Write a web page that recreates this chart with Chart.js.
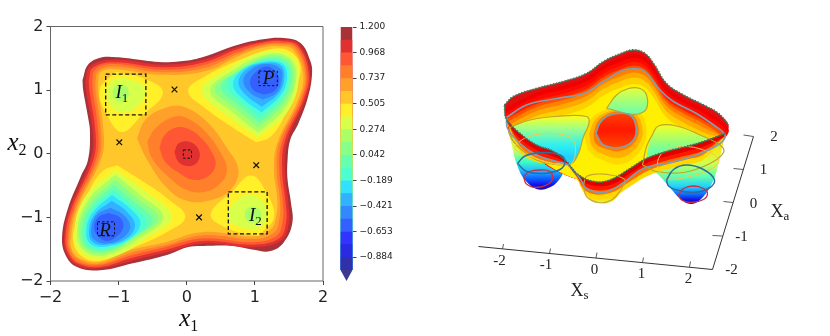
<!DOCTYPE html>
<html>
<head>
<meta charset="utf-8">
<style>
  html, body { margin: 0; padding: 0; background: #fff; }
  canvas { position: absolute; top: 0; }
</style>
<script src="https://cdn.jsdelivr.net/npm/chart.js@4"></script>
</head>
<body>
<canvas id="mapChart" width="335" height="336" style="left:0"></canvas>
<canvas id="barChart" width="110" height="336" style="left:330px"></canvas>
<canvas id="surfChart" width="390" height="336" style="left:440px"></canvas>
<script>
// colour bar
const barLevels = [1.2, 1.084, 0.968, 0.853, 0.737, 0.621, 0.505, 0.39, 0.274, 0.158, 0.042, -0.074, -0.189, -0.305, -0.421, -0.537, -0.653, -0.768, -0.884];
const barColors = ['#a83238', '#e03030', '#ff5733', '#ff7f2a', '#ffa02a', '#ffc72a', '#fff02a', '#d8ff4a', '#aaff66', '#88ff88', '#66ffb0', '#4dffd0', '#33e0ff', '#33b0ff', '#3388ff', '#3360ff', '#3333ff', '#2a2ae0', '#3030a8'];
const barTicks = [1.2, 0.968, 0.737, 0.505, 0.274, 0.042, -0.189, -0.421, -0.653, -0.884];

// contour map: outer rings, from the rim inwards
const rim0 = [[-1.53,1.16],[-1.45,1.40],[-1.27,1.51],[-1.08,1.52],[-.79,1.49],[-.35,1.44],[-.02,1.46],[.24,1.52],[.74,1.71],[1.12,1.80],[1.42,1.82],[1.67,1.74],[1.81,1.47],[1.84,1.27],[1.78,.89],[1.64,.48],[1.52,.22],[1.48,-.10],[1.48,-.41],[1.53,-.77],[1.55,-1.09],[1.42,-1.40],[1.23,-1.53],[.98,-1.51],[.68,-1.45],[.24,-1.45],[.01,-1.47],[-.29,-1.59],[-.79,-1.72],[-1.27,-1.83],[-1.61,-1.78],[-1.78,-1.59],[-1.83,-1.31],[-1.75,-.88],[-1.56,-.37],[-1.45,-.10],[-1.42,.33],[-1.45,.58],[-1.52,1.00],[-1.53,1.16]];
const rim1 = [[-1.49,1.15],[-1.42,1.37],[-1.08,1.48],[-.35,1.40],[.25,1.48],[.75,1.68],[1.12,1.77],[1.41,1.79],[1.65,1.72],[1.81,1.27],[1.75,.88],[1.48,.21],[1.44,-.25],[1.49,-.76],[1.50,-1.08],[1.39,-1.36],[.98,-1.47],[.24,-1.41],[-.30,-1.55],[-.80,-1.68],[-1.27,-1.80],[-1.60,-1.76],[-1.76,-1.58],[-1.80,-1.31],[-1.72,-.87],[-1.41,-.09],[-1.38,.33],[-1.48,1.00],[-1.49,1.15]];
const rim2 = [[-1.44,1.14],[-1.38,1.35],[-1.08,1.44],[-.35,1.36],[.26,1.44],[.76,1.65],[1.12,1.75],[1.40,1.77],[1.63,1.70],[1.79,1.26],[1.72,.87],[1.44,.20],[1.40,-.25],[1.45,-.76],[1.46,-1.07],[1.36,-1.33],[.98,-1.43],[.24,-1.37],[-.31,-1.51],[-.81,-1.64],[-1.27,-1.78],[-1.59,-1.73],[-1.74,-1.56],[-1.78,-1.31],[-1.69,-.86],[-1.37,-.09],[-1.34,.33],[-1.43,1.00],[-1.44,1.14]];
const rim3 = [[-1.39,1.14],[-1.34,1.33],[-1.08,1.41],[-.35,1.32],[.27,1.40],[.77,1.61],[1.12,1.72],[1.39,1.74],[1.61,1.68],[1.76,1.25],[1.69,.86],[1.40,.19],[1.36,-.25],[1.41,-.75],[1.41,-1.05],[1.32,-1.29],[.98,-1.39],[.24,-1.33],[-.32,-1.47],[-.82,-1.60],[-1.27,-1.75],[-1.58,-1.71],[-1.72,-1.55],[-1.75,-1.31],[-1.66,-.86],[-1.33,-.08],[-1.30,.33],[-1.38,1.00],[-1.39,1.14]];
const rim4 = [[-1.34,1.14],[-1.30,1.30],[-1.07,1.37],[-.35,1.28],[.27,1.35],[.78,1.58],[1.12,1.70],[1.38,1.72],[1.59,1.66],[1.74,1.24],[1.66,.85],[1.36,.18],[1.32,-.25],[1.37,-.75],[1.36,-1.03],[1.28,-1.24],[.98,-1.34],[.24,-1.28],[-.33,-1.44],[-.83,-1.56],[-1.27,-1.73],[-1.56,-1.68],[-1.70,-1.53],[-1.73,-1.31],[-1.63,-.85],[-1.29,-.07],[-1.26,.33],[-1.34,1.00],[-1.34,1.14]];
const rim5 = [[-1.30,1.14],[-1.27,1.28],[-1.07,1.33],[-.35,1.24],[.28,1.30],[.79,1.55],[1.12,1.67],[1.37,1.69],[1.56,1.64],[1.71,1.24],[1.63,.84],[1.33,.17],[1.28,-.25],[1.33,-.74],[1.31,-1.00],[1.23,-1.19],[.98,-1.30],[.24,-1.23],[-.34,-1.40],[-.84,-1.52],[-1.27,-1.70],[-1.55,-1.66],[-1.68,-1.52],[-1.70,-1.31],[-1.60,-.84],[-1.25,-.06],[-1.22,.33],[-1.30,1.00],[-1.30,1.14]];

// central hill
const hill0 = [[-.73,.24],[-.61,.53],[-.34,.71],[-.05,.74],[.30,.50],[.59,.09],[.76,-.26],[.64,-.57],[.35,-.73],[0,-.74],[-.29,-.54],[-.58,-.10],[-.73,.24]];
const hill1 = [[-.58,.19],[-.46,.40],[-.19,.58],[0,.56],[.27,.35],[.49,.03],[.59,-.26],[.47,-.49],[.25,-.60],[0,-.57],[-.27,-.36],[-.51,-.07],[-.58,.19]];
const hill2 = [[-.40,.09],[-.34,.27],[-.19,.40],[0,.40],[.22,.24],[.39,-.02],[.42,-.20],[.30,-.36],[.10,-.41],[-.10,-.31],[-.32,-.12],[-.40,.09]];
const hill3 = [[-.18,.03],[-.12,.16],[.03,.19],[.15,.11],[.19,-.05],[.10,-.18],[-.05,-.18],[-.14,-.10],[-.18,.03]];

// intermediate wells
const i1a = [[-1.05,1.29],[-.64,1.19],[-.35,.96],[-.68,.58],[-.95,.34],[-1.17,.61],[-1.28,1.00],[-1.05,1.29]];
const i1b = [[-.90,1.19],[-.65,1.08],[-.61,.92],[-.79,.69],[-1.01,.66],[-1.15,.81],[-1.18,1.00],[-1.08,1.16],[-.90,1.19]];
const i1c = [[-.97,1.09],[-.88,1.05],[-.85,.96],[-.88,.87],[-.97,.83],[-1.06,.87],[-1.09,.96],[-1.06,1.05],[-.97,1.09]];
const i2a = [[1.05,-1.29],[.64,-1.19],[.35,-.96],[.68,-.58],[.95,-.34],[1.17,-.61],[1.28,-1.00],[1.05,-1.29]];
const i2b = [[.90,-1.19],[.65,-1.08],[.61,-.92],[.79,-.69],[1.01,-.66],[1.15,-.81],[1.18,-1.00],[1.08,-1.16],[.90,-1.19]];
const i2c = [[.97,-1.09],[.88,-1.05],[.85,-.96],[.88,-.87],[.97,-.83],[1.06,-.87],[1.09,-.96],[1.06,-1.05],[.97,-1.09]];

// deep well R
const r0 = [[-1.02,-.18],[-.68,-.41],[-.29,-.70],[-.02,-.99],[-.29,-1.23],[-.79,-1.48],[-1.27,-1.68],[-1.53,-1.62],[-1.67,-1.35],[-1.58,-.99],[-1.40,-.52],[-1.22,-.26],[-1.02,-.18]];
const r1 = [[-1.05,-.26],[-.63,-.57],[-.22,-.99],[-.58,-1.32],[-1.12,-1.63],[-1.53,-1.57],[-1.65,-1.25],[-1.49,-.675],[-1.05,-.26]];
const r2 = [[-1.05,-.33],[-.68,-.65],[-.34,-.99],[-.63,-1.28],[-1.17,-1.59],[-1.50,-1.53],[-1.61,-1.225],[-1.45,-.73],[-1.05,-.33]];
const r3 = [[-1.05,-.41],[-.73,-.70],[-.41,-1.015],[-.68,-1.26],[-1.17,-1.55],[-1.48,-1.50],[-1.58,-1.20],[-1.43,-.78],[-1.05,-.41]];
const r4 = [[-1.07,-.49],[-.78,-.75],[-.50,-1.04],[-.73,-1.28],[-1.17,-1.52],[-1.46,-1.47],[-1.54,-1.20],[-1.41,-.83],[-1.07,-.49]];
const r5 = [[-1.07,-.57],[-.81,-.81],[-.59,-1.07],[-.78,-1.30],[-1.17,-1.49],[-1.44,-1.44],[-1.50,-1.20],[-1.39,-.88],[-1.07,-.57]];
const r6 = [[-1.10,-.65],[-.83,-.86],[-.68,-1.09],[-.83,-1.33],[-1.17,-1.46],[-1.42,-1.41],[-1.47,-1.17],[-1.37,-.91],[-1.10,-.65]];
const r7 = [[-1.10,-.74],[-.88,-.91],[-.76,-1.12],[-.88,-1.33],[-1.17,-1.43],[-1.39,-1.38],[-1.43,-1.17],[-1.34,-.94],[-1.10,-.74]];
const r8 = [[-1.12,-.85],[-.93,-.96],[-.83,-1.15],[-.95,-1.33],[-1.17,-1.41],[-1.37,-1.34],[-1.40,-1.17],[-1.32,-.96],[-1.12,-.85]];
const r9 = [[-1.15,-.93],[-.98,-1.0],[-.93,-1.15],[-1.03,-1.30],[-1.17,-1.37],[-1.30,-1.30],[-1.36,-1.15],[-1.29,-.99],[-1.15,-.93]];

// deep well P
const p0 = [[1.02,.18],[.68,.41],[.29,.70],[.02,.99],[.29,1.23],[.79,1.48],[1.27,1.65],[1.53,1.60],[1.67,1.35],[1.58,.99],[1.40,.52],[1.22,.26],[1.02,.18]];
const p1 = [[1.05,.26],[.63,.57],[.22,.99],[.58,1.32],[1.12,1.60],[1.53,1.55],[1.65,1.25],[1.49,.675],[1.05,.26]];
const p2 = [[1.05,.33],[.68,.65],[.34,.99],[.63,1.28],[1.17,1.56],[1.50,1.51],[1.61,1.225],[1.45,.73],[1.05,.33]];
const p3 = [[1.05,.41],[.73,.70],[.41,1.015],[.68,1.26],[1.17,1.53],[1.48,1.48],[1.58,1.20],[1.43,.78],[1.05,.41]];
const p4 = [[1.07,.49],[.78,.75],[.50,1.04],[.73,1.28],[1.17,1.50],[1.46,1.45],[1.54,1.20],[1.41,.83],[1.07,.49]];
const p5 = [[1.07,.57],[.81,.81],[.59,1.07],[.78,1.30],[1.17,1.47],[1.44,1.42],[1.50,1.20],[1.39,.88],[1.07,.57]];
const p6 = [[1.10,.65],[.83,.86],[.68,1.09],[.83,1.33],[1.17,1.45],[1.42,1.40],[1.47,1.17],[1.37,.91],[1.10,.65]];
const p7 = [[1.10,.74],[.88,.91],[.76,1.12],[.88,1.33],[1.17,1.43],[1.39,1.38],[1.43,1.17],[1.34,.94],[1.10,.74]];
const p8 = [[1.12,.85],[.93,.96],[.83,1.15],[.95,1.33],[1.17,1.41],[1.37,1.34],[1.40,1.17],[1.32,.96],[1.12,.85]];
const p9 = [[1.15,.93],[.98,1.0],[.93,1.15],[1.03,1.30],[1.17,1.37],[1.30,1.30],[1.36,1.15],[1.29,.99],[1.15,.93]];

// dashed boxes and saddle points
const boxI1 = [[-1.19,1.25],[-.60,1.25],[-.60,.61],[-1.19,.61],[-1.19,1.25]];
const boxI2 = [[.61,-.60],[1.18,-.60],[1.18,-1.26],[.61,-1.26],[.61,-.60]];
const boxP = [[1.06,1.30],[1.33,1.30],[1.33,1.07],[1.06,1.07],[1.06,1.30]];
const boxR = [[-1.31,-1.07],[-1.06,-1.07],[-1.06,-1.29],[-1.31,-1.29],[-1.31,-1.07]];
const boxC = [[-.05,.06],[.07,.06],[.07,-.07],[-.05,-.07],[-.05,.06]];
const saddles = [[-.18,1.01],[-.99,.18],[1.02,-.18],[.18,-1.0]];
const frame = [[-2,-2],[2,-2],[2,2],[-2,2],[-2,-2]];

// surface, in view units of the 3D panel
const sRim = [[-1.91,3.90],[-1.73,4.07],[-1.27,4.23],[-.73,4.37],[-.27,4.53],[.07,4.77],[.40,4.92],[.67,5.00],[.90,4.93],[1.07,4.73],[1.33,4.33],[1.67,4.10],[2.07,3.90],[2.37,3.73],[2.57,3.50]];
const sFront = [[2.50,3.33],[2.07,3.17],[1.73,3.07],[1.33,2.97],[.93,2.83],[.60,2.63],[.20,2.40],[-.13,2.37],[-.47,2.53],[-.67,2.77],[-.93,2.97],[-1.27,3.10],[-1.60,3.33],[-1.87,3.61],[-1.91,3.90]];
const back1 = [[-1.91,3.82],[-1.27,4.15],[-.73,4.29],[-.27,4.45],[.07,4.69],[.40,4.84],[.67,4.92],[.90,4.85],[1.07,4.65],[1.33,4.25],[1.67,4.02],[2.07,3.82],[2.57,3.42],[2.4,3.2],[.6,2.5],[-.4,2.4],[-1.7,3.2],[-1.91,3.82]];
const back2 = [[-1.90,3.74],[-1.27,4.07],[-.73,4.21],[-.27,4.37],[.07,4.61],[.40,4.76],[.67,4.84],[.90,4.77],[1.07,4.57],[1.33,4.17],[1.67,3.94],[2.07,3.74],[2.55,3.36],[2.4,3.2],[.6,2.5],[-.4,2.4],[-1.7,3.2],[-1.90,3.74]];
const back3 = [[-1.89,3.68],[-1.27,3.99],[-.73,4.13],[-.27,4.29],[.07,4.53],[.40,4.68],[.67,4.76],[.90,4.69],[1.07,4.49],[1.33,4.09],[1.67,3.86],[2.07,3.66],[2.53,3.32],[2.4,3.2],[.6,2.5],[-.4,2.4],[-1.7,3.2],[-1.89,3.68]];
const back4 = [[-1.87,3.62],[-1.27,3.92],[-.73,4.06],[-.27,4.22],[.07,4.46],[.40,4.61],[.67,4.69],[.90,4.62],[1.07,4.42],[1.33,4.02],[1.67,3.79],[2.07,3.59],[2.5,3.3],[2.4,3.2],[.6,2.5],[-.4,2.4],[-1.7,3.2],[-1.87,3.62]];
const back5 = [[-1.85,3.56],[-1.27,3.86],[-.73,4.00],[-.27,4.16],[.07,4.40],[.40,4.55],[.67,4.63],[.90,4.56],[1.07,4.36],[1.33,3.96],[1.67,3.73],[2.07,3.53],[2.45,3.26],[2.4,3.2],[.6,2.5],[-.4,2.4],[-1.7,3.2],[-1.85,3.56]];
const back6 = [[-1.82,3.50],[-1.27,3.78],[-.73,3.92],[-.27,4.08],[.07,4.32],[.40,4.47],[.67,4.55],[.90,4.48],[1.07,4.28],[1.33,3.88],[1.67,3.65],[2.07,3.45],[2.4,3.22],[.6,2.5],[-.4,2.4],[-1.7,3.2],[-1.82,3.50]];
const back7 = [[-1.78,3.42],[-1.27,3.68],[-.73,3.82],[-.27,3.98],[.07,4.22],[.40,4.37],[.67,4.45],[.90,4.38],[1.07,4.18],[1.33,3.78],[1.67,3.55],[2.07,3.35],[2.4,3.2],[.6,2.5],[-.4,2.4],[-1.7,3.2],[-1.78,3.42]];
const back8 = [[-1.72,3.34],[-1.27,3.55],[-.73,3.69],[-.27,3.85],[.07,4.09],[.40,4.24],[.67,4.32],[.90,4.25],[1.07,4.05],[1.33,3.65],[1.67,3.42],[2.07,3.22],[2.35,3.18],[.6,2.5],[-.4,2.4],[-1.7,3.2],[-1.72,3.34]];
const halo1 = [[-.32,3.3],[-.18,3.62],[.1,3.80],[.4,3.85],[.72,3.82],[.92,3.5],[.85,3.05],[.45,2.72],[.0,2.82],[-.22,3.0],[-.32,3.3]];
const halo2 = [[-.22,3.32],[-.10,3.6],[.12,3.75],[.36,3.8],[.66,3.77],[.84,3.48],[.78,3.12],[.43,2.85],[.03,2.93],[-.16,3.08],[-.22,3.32]];
const halo3 = [[-.13,3.33],[-.05,3.56],[.13,3.71],[.34,3.77],[.62,3.74],[.77,3.47],[.71,3.17],[.41,2.98],[.06,3.04],[-.1,3.15],[-.13,3.33]];
const dome = [[-.08,3.33],[-.01,3.53],[.13,3.67],[.33,3.73],[.60,3.70],[.72,3.47],[.67,3.20],[.40,3.05],[.07,3.10],[-.08,3.33]];
const lobeRear = [[.13,3.83],[.33,4.10],[.57,4.23],[.80,4.23],[.93,4.10],[.93,3.83],[.77,3.72],[.53,3.73],[.27,3.80],[.13,3.83]];
const lobeLeft = [[-1.77,3.47],[-1.40,3.60],[-.87,3.67],[-.27,3.67],[-.22,3.53],[-.33,3.27],[-.43,2.93],[-.57,2.73],[-.93,2.87],[-1.33,3.07],[-1.70,3.33],[-1.77,3.47]];
const lobeRight = [[.93,2.87],[1.03,3.27],[1.17,3.48],[1.53,3.48],[2.0,3.30],[2.40,3.10],[2.07,3.0],[1.33,2.8],[.93,2.87]];
const wellLeft = [[-1.85,3.47],[-1.77,3.13],[-1.67,2.73],[-1.5,2.40],[-1.23,2.21],[-.97,2.27],[-.8,2.43],[-.67,2.67],[-.57,2.75],[-.93,2.97],[-1.6,3.33],[-1.85,3.47]];
const wellRight = [[2.5,3.30],[2.47,3.17],[2.37,2.73],[2.27,2.40],[2.07,2.07],[1.83,1.92],[1.6,2.03],[1.33,2.33],[1.13,2.53],[.9,2.61],[.93,2.83],[1.73,3.07],[2.5,3.30]];
const wellMiddle = [[-.47,2.53],[-.37,2.33],[-.2,2.03],[.03,1.93],[.27,1.99],[.43,2.2],[.6,2.47],[.9,2.61],[.93,2.83],[.2,2.40],[-.47,2.53]];
const wall1 = [[-1.87,3.61],[-1.60,3.33],[-1.27,3.10],[-.93,2.97],[-.67,2.77],[-.47,2.53],[-.13,2.37],[.2,2.40],[.6,2.63],[.93,2.83],[1.33,2.97],[1.73,3.07],[2.07,3.17],[2.50,3.33],[2.50,3.28],[2.07,3.07],[1.73,2.97],[1.33,2.87],[.93,2.73],[.6,2.53],[.2,2.30],[-.25,2.32],[-.5,2.53],[-.67,2.73],[-.93,2.87],[-1.27,3.0],[-1.60,3.23],[-1.87,3.58],[-1.87,3.61]];
const wall2 = [[-1.87,3.61],[-1.60,3.33],[-1.27,3.10],[-.93,2.97],[-.67,2.77],[-.47,2.53],[-.13,2.37],[.2,2.40],[.6,2.63],[.93,2.83],[1.33,2.97],[1.73,3.07],[2.07,3.17],[2.50,3.33],[2.50,3.28],[2.07,2.99],[1.73,2.89],[1.33,2.79],[.93,2.65],[.6,2.45],[.2,2.22],[-.25,2.24],[-.5,2.52],[-.67,2.71],[-.93,2.79],[-1.27,2.92],[-1.60,3.15],[-1.87,3.58],[-1.87,3.61]];
const wall3 = [[-1.87,3.61],[-1.60,3.33],[-1.27,3.10],[-.93,2.97],[-.67,2.77],[-.47,2.53],[-.13,2.37],[.2,2.40],[.6,2.63],[.93,2.83],[1.33,2.97],[1.73,3.07],[2.07,3.17],[2.50,3.33],[2.50,3.28],[2.07,2.91],[1.73,2.81],[1.33,2.71],[.93,2.57],[.6,2.37],[.2,2.14],[-.25,2.16],[-.5,2.51],[-.67,2.70],[-.93,2.74],[-1.27,2.84],[-1.60,3.07],[-1.87,3.58],[-1.87,3.61]];
const wall4 = [[-1.87,3.61],[-1.60,3.33],[-1.27,3.10],[-.93,2.97],[-.67,2.77],[-.47,2.53],[-.13,2.37],[.2,2.40],[.6,2.63],[.93,2.83],[1.33,2.97],[1.73,3.07],[2.07,3.17],[2.50,3.33],[2.50,3.28],[2.07,2.81],[1.73,2.71],[1.33,2.61],[.93,2.47],[.6,2.27],[.2,2.04],[-.25,2.08],[-.5,2.50],[-.67,2.69],[-.93,2.72],[-1.27,2.76],[-1.60,2.97],[-1.87,3.58],[-1.87,3.61]];

// contour lines on the surface
const lineTeal = [[-1.87,3.65],[-1.47,3.90],[-.87,4.03],[-.33,4.13],[.07,4.37],[.40,4.57],[.67,4.63],[.90,4.57],[1.20,4.20],[1.47,3.97],[1.93,3.73],[2.27,3.50],[2.50,3.30],[2.40,3.13],[1.93,2.90],[1.33,2.73],[.87,2.63],[.40,2.30],[.07,2.15],[-.27,2.23],[-.40,2.43],[-.63,2.70],[-.87,2.77],[-1.27,2.90],[-1.60,3.13],[-1.85,3.43],[-1.87,3.65]];
const lineOliveLeft = [[-1.77,3.47],[-1.40,3.60],[-.87,3.67],[-.27,3.67],[-.22,3.53],[-.33,3.27],[-.43,2.93],[-.57,2.73],[-.80,2.70],[-1.27,2.80],[-1.67,3.10],[-1.83,3.37],[-1.77,3.47]];
const lineOliveRight = [[.85,2.70],[.93,3.07],[1.03,3.27],[1.17,3.48],[1.53,3.48],[2.0,3.30],[2.40,3.10],[2.47,2.95],[2.20,2.73],[1.67,2.55],[1.13,2.57],[.85,2.70]];
const lineOliveMiddle = [[-.33,2.30],[-.27,2.07],[-.03,1.95],[.23,2.0],[.43,2.23],[.50,2.40],[.27,2.49],[-.03,2.52],[-.27,2.47],[-.33,2.30]];
const lineYellowLeft = [[-1.70,3.10],[-1.43,3.27],[-.93,3.33],[-.57,3.23],[-.49,3.03],[-.57,2.73],[-.80,2.70],[-1.40,2.87],[-1.68,3.0],[-1.70,3.10]];
const lineYellowRight = [[1.15,2.60],[1.17,2.83],[1.33,3.0],[1.67,3.07],[2.07,3.0],[2.37,2.83],[2.30,2.67],[1.80,2.47],[1.33,2.43],[1.15,2.60]];
const lineBlueLeft = [[-1.65,2.73],[-1.50,2.88],[-1.13,2.95],[-.80,2.90],[-.70,2.77],[-.80,2.61],[-1.13,2.53],[-1.47,2.57],[-1.65,2.73]];
const lineBlueRight = [[1.33,2.40],[1.47,2.61],[1.73,2.70],[2.07,2.61],[2.29,2.40],[2.17,2.23],[1.87,2.15],[1.53,2.20],[1.37,2.28],[1.33,2.40]];
const lineRedLeft = [[-1.53,2.47],[-1.41,2.57],[-1.20,2.60],[-1.0,2.57],[-.95,2.43],[-1.03,2.32],[-1.27,2.25],[-1.47,2.32],[-1.53,2.47]];
const lineRedRight = [[1.57,2.10],[1.67,2.23],[1.87,2.28],[2.07,2.23],[2.15,2.13],[2.07,2.01],[1.83,1.95],[1.63,2.0],[1.57,2.10]];

// 3D box axes
const axisFront = [[-2.43,1.07],[2.25,.61]];
const axisSide = [[2.25,.61],[3.07,3.27]];
const tickSegments = [
  [[-1.95,1.02],[-1.93,1.12]], [[-1.01,.93],[-.99,1.03]], [[-.08,.84],[-.06,.95]], [[.85,.75],[.87,.85]], [[1.79,.66],[1.81,.77]],
  [[3.07,3.27],[2.87,3.30]], [[2.87,2.61],[2.67,2.63]], [[2.66,1.95],[2.47,1.97]], [[2.45,1.28],[2.25,1.29]]
];
const surfTickLabels = [['-2',-2.01,.71],['-1',-1.08,.62],['0',-.11,.53],['1',.83,.45],['2',1.77,.35],['2',3.48,3.19],['1',3.27,2.53],['0',3.07,1.85],['-1',2.83,1.19],['-2',2.63,.52]];

// vertical colour ramps, height then colour
const rampLeft = [[3.4,'#ffe000'],[3.0,'#d0ff50'],[2.77,'#40ffc0'],[2.6,'#20c0ff'],[2.43,'#1060ff'],[2.3,'#1010f0'],[2.21,'#200ca0']];
const rampRight = [[3.13,'#ffe000'],[2.73,'#d0ff50'],[2.47,'#60ffb0'],[2.27,'#20d0ff'],[2.1,'#1060ff'],[2.0,'#1010e0'],[1.92,'#200ca0']];
const rampMiddle = [[2.4,'#ff2000'],[2.2,'#ff9000'],[2.03,'#ffe000'],[1.92,'#c8ff70']];
const rampLobeLeft = [[3.67,'#f8ff20'],[3.45,'#a8ff80'],[3.1,'#30f0f0'],[2.85,'#20d0ff']];
const rampLobeRear = [[4.23,'#e0ff40'],[3.75,'#70ffa8']];
const rampLobeRight = [[3.48,'#eeff28'],[3.0,'#70ffa0']];
const rampDome = [[3.73,'#ff4000'],[3.4,'#ff1800'],[3.05,'#ff4800']];

function poly(data, color, extra) {
  return Object.assign({ data, backgroundColor: color, fill: 'shape', borderWidth: 0, tension: 0.4, pointRadius: 0 }, extra);
}
function stroke(data, color, width, extra) {
  return Object.assign({ data, borderColor: color, borderWidth: width, fill: false, tension: 0.4, pointRadius: 0 }, extra);
}
function ramp(stops) {
  return (c) => {
    const y = c.chart.scales.y;
    const top = y ? y.getPixelForValue(stops[0][0]) : NaN;
    const bottom = y ? y.getPixelForValue(stops[stops.length - 1][0]) : NaN;
    if (!Number.isFinite(top) || !Number.isFinite(bottom) || top === bottom) return stops[0][1];
    const g = c.chart.ctx.createLinearGradient(0, top, 0, bottom);
    stops.forEach(s => g.addColorStop((s[0] - stops[0][0]) / (stops[stops.length - 1][0] - stops[0][0]), s[1]));
    return g;
  };
}
// later layers paint over earlier ones
function layered(list) {
  return list.map((d, i) => Object.assign({ order: -i, capBezierPoints: false }, d));
}

// text at data positions, with an optional subscript
const textPlugin = {
  id: 'textMarks',
  afterDraw(chart, args, opts) {
    const { ctx, scales } = chart;
    ctx.save();
    ctx.textBaseline = 'alphabetic';
    (opts.items || []).forEach(t => {
      const px = scales.x.getPixelForValue(t.x);
      const py = scales.y.getPixelForValue(t.y);
      ctx.fillStyle = t.color || '#111';
      ctx.font = t.font;
      ctx.textAlign = t.sub ? 'left' : 'center';
      const w = ctx.measureText(t.text).width;
      const start = t.sub ? px - w / 2 : px;
      ctx.fillText(t.text, start, py);
      if (t.sub) {
        ctx.font = t.subFont;
        ctx.fillText(t.sub, px + w / 2 + (t.subDx || 0), py + t.subDy);
      }
    });
    ctx.restore();
  }
};

const greyLine = '#666';
const mathFont = 'italic 19px "Liberation Serif"';
const mathSub = '13px "Liberation Serif"';
const axisFont = 'italic 25px "Liberation Serif"';
const axisSub = '16px "Liberation Serif"';

function fixedAxis(min, max, size, key) {
  return {
    type: 'linear', min, max,
    ticks: {
      stepSize: 1, padding: 3, color: '#222',
      font: { family: 'DejaVu Sans', size: 16 },
      callback: v => String(v).replace('-', '\u2212')
    },
    grid: { drawOnChartArea: false, drawTicks: true, tickLength: 4, color: '#444' },
    border: { display: false },
    afterFit(scale) { scale[key] = size; }
  };
}

new Chart(document.getElementById('mapChart'), {
  type: 'line',
  plugins: [textPlugin],
  data: {
    datasets: layered([
      poly(rim0, barColors[0]), poly(rim1, barColors[1]), poly(rim2, barColors[2]),
      poly(rim3, barColors[3]), poly(rim4, barColors[4]), poly(rim5, barColors[5]),
      poly(hill0, barColors[4]), poly(hill1, barColors[3]), poly(hill2, barColors[2]), poly(hill3, barColors[1]),
      poly(i1a, barColors[6]), poly(i1b, barColors[7]), poly(i1c, barColors[8]),
      poly(i2a, barColors[6]), poly(i2b, barColors[7]), poly(i2c, barColors[8]),
      poly(r0, barColors[6]), poly(r1, barColors[7]), poly(r2, barColors[8]), poly(r3, barColors[9]), poly(r4, barColors[10]),
      poly(r5, barColors[11]), poly(r6, barColors[12]), poly(r7, barColors[13]), poly(r8, barColors[14]), poly(r9, barColors[15]),
      poly(p0, barColors[6]), poly(p1, barColors[7]), poly(p2, barColors[8]), poly(p3, barColors[9]), poly(p4, barColors[10]),
      poly(p5, barColors[11]), poly(p6, barColors[12]), poly(p7, barColors[13]), poly(p8, barColors[14]), poly(p9, barColors[15]),
      stroke(boxI1, '#111', 1.3, { tension: 0, borderDash: [4, 2.5] }),
      stroke(boxI2, '#111', 1.3, { tension: 0, borderDash: [4, 2.5] }),
      stroke(boxP, '#111', 1, { tension: 0, borderDash: [2.5, 2] }),
      stroke(boxR, '#111', 1, { tension: 0, borderDash: [2.5, 2] }),
      stroke(boxC, '#111', 1, { tension: 0, borderDash: [2.5, 2] }),
      { data: saddles, showLine: false, pointStyle: 'crossRot', pointRadius: 4, pointBorderColor: '#111', pointBorderWidth: 1.2 },
      stroke(frame, greyLine, 1, { tension: 0, clip: false })
    ])
  },
  options: {
    responsive: false,
    animation: false,
    layout: { padding: { top: 26.5, right: 12, left: 0, bottom: 0 } },
    plugins: {
      legend: { display: false }, tooltip: { enabled: false },
      textMarks: {
        items: [
          { text: 'I', sub: '1', x: -1.0, y: .88, font: mathFont, subFont: mathSub, subDy: 4 },
          { text: 'I', sub: '2', x: .96, y: -1.05, font: mathFont, subFont: mathSub, subDy: 4 },
          { text: 'P', x: 1.2, y: 1.1, font: mathFont },
          { text: 'R', x: -1.2, y: -1.29, font: mathFont },
          { text: 'x', sub: '1', x: -.03, y: -2.7, font: axisFont, subFont: axisSub, subDy: 5 },
          { text: 'x', sub: '2', x: -2.55, y: .06, font: axisFont, subFont: axisSub, subDy: 5 }
        ]
      }
    },
    scales: { x: fixedAxis(-2, 2, 55, 'height'), y: fixedAxis(-2, 2, 50.5, 'width') }
  }
});

const barLayers = barLevels.map((top, i) => poly([[0,-1],[1,-1],[1,top],[0,top],[0,-1]], barColors[i], { tension: 0 }));
barLayers.push(poly([[0,-1],[1,-1],[.5,-1.1],[0,-1]], '#3a3a90', { tension: 0 }));

new Chart(document.getElementById('barChart'), {
  type: 'line',
  data: { datasets: layered(barLayers) },
  options: {
    responsive: false,
    animation: false,
    layout: { padding: { top: 27, bottom: 55, left: 10.5, right: 0 } },
    plugins: { legend: { display: false }, tooltip: { enabled: false } },
    scales: {
      x: { type: 'linear', min: 0, max: 1, display: false },
      y: {
        type: 'linear', position: 'right', min: -1.1, max: 1.2,
        afterBuildTicks(scale) { scale.ticks = barTicks.map(value => ({ value })); },
        afterFit(scale) { scale.width = 87.5; },
        ticks: {
          autoSkip: false, padding: 3, color: '#222',
          font: { family: 'DejaVu Sans', size: 9 },
          callback: v => v.toFixed(3).replace('-', '\u2212')
        },
        grid: { drawOnChartArea: false, drawTicks: true, tickLength: 4, color: '#444' },
        border: { display: false }
      }
    }
  }
});

const tealLine = '#7f9fb0';
const oliveLine = '#bda62e';
const surfLayers = [
  poly(wellLeft, ramp(rampLeft)), poly(wellRight, ramp(rampRight)), poly(wellMiddle, ramp(rampMiddle)),
  poly(sRim.concat(sFront), '#e01010'),
  poly(back1, '#f00000'), poly(back2, '#ff0800'), poly(back3, '#ff2000'), poly(back4, '#ff5000'),
  poly(back5, '#ff8000'), poly(back6, '#ffa800'), poly(back7, '#ffd000'), poly(back8, '#fff000'),
  poly(lobeLeft, ramp(rampLobeLeft)), poly(lobeRight, ramp(rampLobeRight)),
  poly(halo1, '#ffd800'), poly(halo2, '#ffb000'), poly(halo3, '#ff7a00'),
  poly(lobeRear, ramp(rampLobeRear), { borderWidth: 1.2, borderColor: oliveLine }),
  poly(dome, ramp(rampDome), { borderWidth: 1.6, borderColor: tealLine }),
  poly(wall4, '#ffd800'), poly(wall3, '#ff7000'), poly(wall2, '#ff1800'), poly(wall1, '#e00000'),
  stroke(lineOliveLeft, oliveLine, 1.2), stroke(lineOliveRight, oliveLine, 1.2), stroke(lineOliveMiddle, '#c8a830', 1.2),
  stroke(lineYellowLeft, '#f0cc50', 1), stroke(lineYellowRight, '#f0cc50', 1),
  stroke(lineTeal, tealLine, 1.6),
  stroke(lineBlueLeft, '#2a6fa0', 1.5), stroke(lineBlueRight, '#2a6fa0', 1.5),
  stroke(lineRedLeft, '#c83040', 1.3), stroke(lineRedRight, '#c83040', 1.3),
  stroke(sRim, '#8a4040', 2, { borderDash: [1, 2] }), stroke(sFront, '#506050', 2, { borderDash: [1, 2] }),
  stroke(sRim, '#3f7f60', 1), stroke(sFront, '#3f7f60', 1),
  stroke(axisFront, '#333', 1, { tension: 0 }), stroke(axisSide, '#333', 1, { tension: 0 })
];
tickSegments.forEach(seg => surfLayers.push(stroke(seg, '#333', 0.8, { tension: 0 })));

const serif15 = '15px "Liberation Serif"';
const surfText = surfTickLabels.map(t => ({ text: t[0], x: t[1], y: t[2], font: serif15, color: '#222' }));
surfText.push({ text: 'X', sub: 's', x: -.46, y: .08, font: '18px "Liberation Serif"', subFont: '13px "Liberation Serif"', subDy: 3, color: '#222' });
surfText.push({ text: 'X', sub: 'a', x: 3.54, y: 1.67, font: '18px "Liberation Serif"', subFont: '13px "Liberation Serif"', subDy: 3, color: '#222' });

new Chart(document.getElementById('surfChart'), {
  type: 'line',
  plugins: [textPlugin],
  data: { datasets: layered(surfLayers) },
  options: {
    responsive: false,
    animation: false,
    plugins: { legend: { display: false }, tooltip: { enabled: false }, textMarks: { items: surfText } },
    layout: { padding: 0 },
    scales: {
      x: { type: 'linear', min: -3.2, max: 4.6, display: false },
      y: { type: 'linear', min: -.72, max: 6, display: false }
    }
  }
});
</script>
</body>
</html>
